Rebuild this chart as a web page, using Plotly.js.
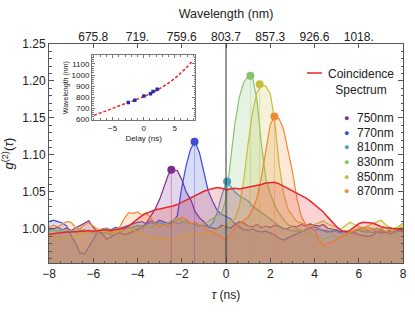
<!DOCTYPE html>
<html>
<head>
<meta charset="utf-8">
<script src="https://cdn.plot.ly/plotly-3.0.1.min.js"></script>
<style>html,body{margin:0;padding:0;background:#fff;}#chart{width:415px;height:312px;}</style>
</head>
<body>
<div id="chart"></div>
<script>
// ---------- DATA ----------
const tau = [-8.0,-7.8,-7.6,-7.4,-7.2,-7.0,-6.8,-6.6,-6.4,-6.2,-6.0,-5.8,-5.6,-5.4,-5.2,-5.0,-4.8,-4.6,-4.4,-4.2,
  -4.0,-3.8,-3.6,-3.4,-3.2,-3.0,-2.8,-2.6,-2.4,-2.2,-2.0,-1.8,-1.6,-1.4,-1.2,-1.0,-0.8,-0.6,-0.4,-0.2,
  0.0,0.2,0.4,0.6,0.8,1.0,1.2,1.4,1.6,1.8,2.0,2.2,2.4,2.6,2.8,3.0,3.2,3.4,3.6,3.8,
  4.0,4.2,4.4,4.6,4.8,5.0,5.2,5.4,5.6,5.8,6.0,6.2,6.4,6.6,6.8,7.0,7.2,7.4,7.6,7.8,8.0];

const coincidence = [0.993,0.994,0.995,0.995,0.996,0.996,0.997,0.997,0.997,0.998,0.997,0.998,0.998,0.999,0.998,0.999,1.000,1.001,1.004,1.009,
  1.014,1.018,1.021,1.024,1.026,1.027,1.028,1.029,1.031,1.033,1.036,1.040,1.043,1.045,1.048,1.051,1.053,1.055,1.056,1.055,
  1.053,1.054,1.055,1.054,1.055,1.056,1.057,1.058,1.060,1.062,1.063,1.063,1.061,1.058,1.055,1.052,1.049,1.046,1.042,1.038,
  1.033,1.028,1.023,1.016,1.009,1.003,0.998,0.996,0.998,1.003,1.007,1.009,1.009,1.008,1.006,1.003,1.002,1.001,1.000,0.999,0.999];

const g750 = [0.998,1.000,1.002,0.999,1.001,0.998,1.001,1.004,1.008,1.011,1.002,0.996,0.995,0.986,0.989,0.993,0.995,0.992,0.994,0.997,
  1.000,1.002,1.008,1.018,1.027,1.040,1.058,1.074,1.080,1.079,1.067,1.050,1.040,1.024,1.015,1.010,1.003,1.002,1.000,1.005,
  1.003,1.001,1.006,1.010,1.008,1.004,1.003,1.006,1.002,1.004,1.002,1.005,1.003,1.000,1.001,1.004,1.003,1.006,1.004,1.007,
  1.005,1.004,1.006,1.001,1.000,0.998,0.996,0.997,0.994,0.995,0.992,0.991,0.990,0.991,0.996,0.998,0.995,0.997,0.996,0.998,0.996];

const g770 = [1.010,1.012,1.010,1.008,1.004,0.991,0.981,0.968,0.966,0.976,0.985,0.996,1.000,1.001,0.999,1.002,1.001,1.003,1.005,1.008,
  1.009,1.010,1.007,1.011,1.008,1.012,1.010,1.007,1.010,1.018,1.056,1.086,1.108,1.118,1.103,1.078,1.051,1.037,1.025,1.020,
  1.017,1.014,1.007,1.003,0.999,0.998,1.000,0.997,0.996,0.997,0.994,0.992,0.987,0.985,0.988,0.991,0.993,0.997,0.999,1.002,
  1.003,1.000,0.998,0.997,0.996,0.999,0.995,0.997,0.994,0.997,0.999,0.996,0.998,0.995,0.997,0.994,0.996,0.993,0.995,0.998,0.996];

const g810 = [1.000,0.998,0.997,0.999,0.996,0.998,0.995,0.997,0.999,0.996,0.994,0.996,0.993,0.995,0.992,0.993,0.996,0.998,1.001,1.003,
  1.005,1.004,1.006,1.008,1.007,1.009,1.006,1.008,1.010,1.007,1.009,1.011,1.008,1.006,1.004,1.005,1.003,1.008,1.022,1.045,
  1.062,1.058,1.050,1.045,1.041,1.038,1.031,1.026,1.022,1.018,1.013,1.009,1.004,1.001,0.999,0.997,0.998,0.996,0.999,1.001,
  0.998,1.000,0.997,0.995,0.998,0.996,0.994,0.997,0.995,0.998,1.000,0.997,0.995,0.998,1.001,0.999,0.996,0.998,0.995,0.997,0.999];

const g830 = [0.996,0.998,0.995,0.997,0.999,0.996,0.998,1.000,0.997,0.995,0.998,0.996,0.999,1.001,0.998,1.000,0.997,0.999,1.002,1.000,
  1.003,1.001,1.004,1.002,1.005,1.003,1.006,1.009,1.013,1.015,1.012,1.008,1.006,1.009,1.005,1.007,1.010,1.014,1.018,1.022,
  1.040,1.088,1.142,1.178,1.198,1.206,1.205,1.174,1.115,1.068,1.048,1.032,1.021,1.013,1.006,1.003,1.001,0.998,0.996,0.994,
  0.991,0.988,0.986,0.988,0.992,0.990,0.988,0.991,0.995,0.998,1.001,0.998,1.003,1.000,0.997,1.000,1.002,0.999,1.001,1.003,1.008];

const g850 = [0.994,0.990,0.988,0.987,0.990,0.988,0.991,0.994,0.997,0.995,0.998,0.996,0.999,0.997,0.994,0.996,0.998,0.995,0.997,0.999,
  0.996,0.994,0.991,0.988,0.987,0.989,0.986,0.988,0.985,0.987,0.990,0.993,0.991,0.994,0.992,0.995,0.993,0.996,0.998,1.001,
  1.005,1.009,1.014,1.030,1.066,1.115,1.158,1.185,1.194,1.193,1.183,1.146,1.088,1.048,1.027,1.018,1.010,1.008,1.006,1.004,
  1.006,1.009,1.011,1.007,1.004,1.002,1.000,1.004,1.009,1.006,1.003,1.001,1.004,1.007,1.010,1.012,1.006,1.002,0.999,1.003,1.007];

const g870 = [1.002,1.005,1.003,1.006,1.010,1.009,1.002,1.000,1.006,1.008,1.004,1.000,0.999,0.997,0.996,0.999,1.003,1.014,1.022,1.021,
  1.023,1.019,1.022,1.014,1.008,1.004,1.006,1.003,1.007,1.012,1.016,1.013,1.007,1.009,1.005,1.003,0.998,0.996,0.992,0.989,
  0.985,0.992,1.001,1.007,1.011,1.016,1.026,1.042,1.070,1.104,1.141,1.152,1.149,1.135,1.106,1.078,1.042,1.017,1.006,1.001,
  0.999,0.985,0.978,0.980,0.982,0.986,0.990,0.993,0.996,0.998,1.000,1.002,0.999,1.001,0.998,1.000,0.997,0.995,0.998,1.000,1.003];

const seriesNames = ['750nm','770nm','810nm','830nm','850nm','870nm'];
const seriesValues = [g750, g770, g810, g830, g850, g870];
const peakTau = [-2.47, -1.42, 0.05, 1.10, 1.52, 2.19];
const peakG   = [1.080, 1.118, 1.064, 1.207, 1.1955, 1.152];
const laserWl = [750, 770, 810, 830, 850, 870];

// inset: delay -> wavelength calibration
const inDelay = [-8,-7,-6,-5,-4,-3,-2,-1,0,1,2,3,4,5,6,7,8];
const inWl    = [634,655,675.8,697,719,739,759.6,781,803.7,829,857.3,890,926.6,969,1018,1073,1136];

// top axis tick labels
const topTickVals = [-6,-4,-2,0,2,4,6];
const topTickText = ['675.8','719.','759.6','803.7','857.3','926.6','1018.'];

// ---------- STYLE ----------
const colors = ['#7b2c8b','#3d4fd8','#4a9ec2','#88c46c','#c9bd3e','#f08a34'];
const fills  = ['rgba(123,44,139,0.2)','rgba(61,79,216,0.2)','rgba(74,158,194,0.2)','rgba(136,196,108,0.2)','rgba(201,189,62,0.2)','rgba(240,138,52,0.2)'];
const redColor = '#e8262b';
const yMin = 0.954, yMax = 1.25;
const font = 'Liberation Sans, Arial, sans-serif';

const traces = [];
seriesValues.forEach((vals, i) => {
  traces.push({x: tau, y: vals, type: 'scatter', mode: 'lines',
    line: {color: colors[i], width: 1.2}, fill: 'tozeroy', fillcolor: fills[i],
    showlegend: false, hoverinfo: 'skip'});
});
seriesValues.forEach((vals, i) => {
  traces.push({x: [peakTau[i], peakTau[i]], y: [yMin, peakG[i]], type: 'scatter', mode: 'lines',
    line: {color: colors[i], width: 0.8}, opacity: 0.45, showlegend: false, hoverinfo: 'skip'});
});
traces.push({x: tau, y: coincidence, type: 'scatter', mode: 'lines',
  line: {color: redColor, width: 1.5}, fill: 'tozeroy', fillcolor: 'rgba(232,38,43,0.2)',
  showlegend: false, hoverinfo: 'skip'});
traces.push({x: peakTau, y: peakG, type: 'scatter', mode: 'markers',
  marker: {color: colors, size: 8}, showlegend: false, hoverinfo: 'skip'});
// dummy trace for top axis
traces.push({x: [0], y: [1], xaxis: 'x2', yaxis: 'y', type: 'scatter', mode: 'markers', marker: {opacity: 0}, showlegend: false, hoverinfo: 'skip'});
// inset
traces.push({x: inDelay, y: inWl, xaxis: 'x3', yaxis: 'y3', type: 'scatter', mode: 'lines',
  line: {color: '#ee2222', width: 1.5, dash: '3px,2px', shape: 'spline'}, showlegend: false, hoverinfo: 'skip'});
traces.push({x: peakTau, y: laserWl, xaxis: 'x3', yaxis: 'y3', type: 'scatter', mode: 'markers',
  marker: {color: '#1f2fb0', size: 3.5, symbol: 'square'}, showlegend: false, hoverinfo: 'skip'});

// legend (annotations)
const annotations = [];
const legY0 = 0.6607, legDy = 0.0665;
seriesNames.forEach((nm, i) => {
  annotations.push({xref: 'paper', yref: 'paper', x: 0.8418, y: legY0 - i*legDy, text: '●',
    showarrow: false, xanchor: 'center', yanchor: 'middle', font: {family: font, size: 9, color: colors[i]}});
  annotations.push({xref: 'paper', yref: 'paper', x: 0.8644, y: legY0 - i*legDy, text: nm,
    showarrow: false, xanchor: 'left', yanchor: 'middle', font: {family: font, size: 12, color: '#222'}});
});
annotations.push({xref: 'paper', yref: 'paper', x: 0.7825, y: 0.8676, text: 'Coincidence<br>Spectrum', align: 'center',
  showarrow: false, xanchor: 'left', yanchor: 'top', yshift: 8, font: {family: font, size: 12, color: '#222'}});

const axLine = '#555';
const layout = {
  width: 415, height: 312,
  margin: {l: 49, r: 12, t: 44, b: 49},
  paper_bgcolor: '#fff', plot_bgcolor: '#fff',
  font: {family: font, size: 12, color: '#222'},
  showlegend: false,
  xaxis: {range: [-8, 8], dtick: 2, tick0: 0, ticks: 'inside', ticklen: 5, tickcolor: axLine,
    minor: {dtick: 0.5, ticks: 'inside', ticklen: 2.5, tickcolor: axLine},
    showline: true, linecolor: axLine, linewidth: 1, mirror: true, zeroline: false, showgrid: false,
    tickfont: {size: 12}, title: {text: '<i>τ</i> (ns)', font: {size: 12}, standoff: 10}},
  xaxis2: {range: [-8, 8], overlaying: 'x', side: 'top', anchor: 'y', tickvals: topTickVals, ticktext: topTickText,
    ticks: 'inside', ticklen: 4, tickcolor: axLine, showgrid: false, zeroline: false, showline: false,
    tickfont: {size: 12}, title: {text: 'Wavelength (nm)', font: {size: 12.5}, standoff: 8}},
  yaxis: {range: [yMin, yMax], dtick: 0.05, tick0: 1, tickformat: '.2f', ticks: 'inside', ticklen: 5, tickcolor: axLine,
    minor: {dtick: 0.01, ticks: 'inside', ticklen: 2.5, tickcolor: axLine},
    showline: true, linecolor: axLine, linewidth: 1, mirror: 'ticks', zeroline: false, showgrid: false,
    tickfont: {size: 12}, title: {text: '<i>g</i><sup>(2)</sup>(<i>τ</i>)', font: {size: 13}, standoff: 5}},
  xaxis3: {domain: [0.1215, 0.413], anchor: 'y3', range: [-8.32, 8.32], tickvals: [-5, 0, 5],
    ticks: 'inside', ticklen: 3, tickcolor: '#777', minor: {dtick: 1, ticks: 'inside', ticklen: 1.5, tickcolor: '#777'},
    showline: true, linecolor: '#777', mirror: 'ticks', zeroline: false, showgrid: false,
    tickfont: {size: 8}, title: {text: 'Delay (ns)', font: {size: 8}, standoff: 3}},
  yaxis3: {domain: [0.653, 0.948], anchor: 'x3', range: [592, 1178], dtick: 100, tick0: 600,
    ticks: 'inside', ticklen: 3, tickcolor: '#777', minor: {dtick: 20, ticks: 'inside', ticklen: 1.5, tickcolor: '#777'},
    showline: true, linecolor: '#777', mirror: 'ticks', zeroline: false, showgrid: false,
    tickfont: {size: 8}, title: {text: 'Wavelength (nm)', font: {size: 7}, standoff: 2}},
  shapes: [
    {type: 'line', xref: 'x', yref: 'paper', x0: 0, x1: 0, y0: 0, y1: 1, line: {color: '#333', width: 1}},
    {type: 'line', xref: 'x3', yref: 'y3 domain', x0: 0, x1: 0, y0: 0, y1: 1, line: {color: '#bbbbbb', width: 2}, layer: 'below'},
    {type: 'line', xref: 'paper', yref: 'paper', x0: 0.7288, x1: 0.7712, y0: 0.8676, y1: 0.8676, line: {color: redColor, width: 1.5}}
  ],
  annotations: annotations
};

Plotly.newPlot('chart', traces, layout, {staticPlot: true, displayModeBar: false});
</script>
</body>
</html>
